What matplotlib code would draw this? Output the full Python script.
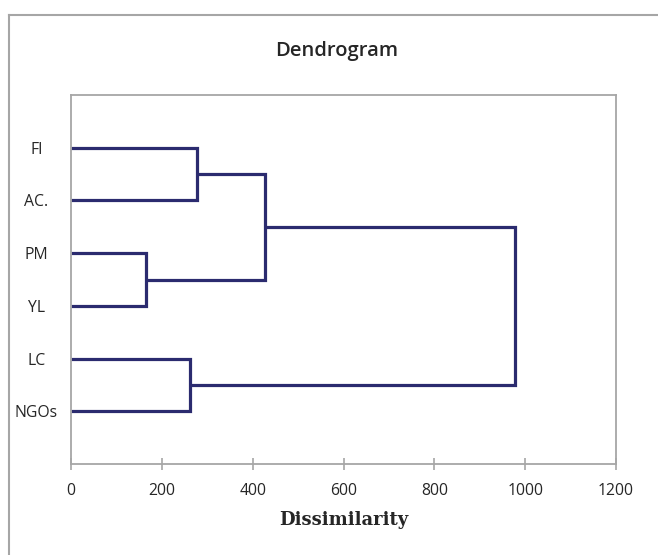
import matplotlib
matplotlib.use("Agg")
import matplotlib.pyplot as plt
from matplotlib.lines import Line2D

# Data
labels = ['FI', 'AC.', 'PM', 'YL', 'LC', 'NGOs']
# merges: (child_a, child_b, dissimilarity); leaves are 0..5, clusters 6..
merges = [
    (2, 3, 165),    # PM + YL -> 6
    (4, 5, 263),    # LC + NGOs -> 7
    (0, 1, 277),    # FI + AC. -> 8
    (8, 6, 427),    # (FI,AC.) + (PM,YL) -> 9
    (9, 7, 978),    # all -> 10
]
xticks = [0, 200, 400, 600, 800, 1000, 1200]

line_color = '#2b2b6f'
grey = '#a6a6a6'
text_color = '#262626'

fig = plt.figure(figsize=(6.58, 5.55), dpi=100)
ax = fig.add_axes([71/658, 1 - 464/555, (616-71)/658, (464-95)/555])

n = len(labels)
pos = {i: (0.0, n - i) for i in range(n)}
for k, (a, b, h) in enumerate(merges):
    xa, ya = pos[a]
    xb, yb = pos[b]
    ax.plot([xa, h, h, xb], [ya, ya, yb, yb], color=line_color, lw=2.3,
            solid_joinstyle='miter', solid_capstyle='butt')
    pos[n + k] = (h, (ya + yb) / 2)

ax.set_xlim(0, 1200)
ax.set_ylim(0, n + 1)
ax.set_xticks(xticks)
ax.set_xticklabels([str(t) for t in xticks], fontfamily='Open Sans', fontsize=11.3, color=text_color)
ax.set_yticks([n - i for i in range(n)])
ax.set_yticklabels(labels, fontfamily='Open Sans', fontsize=11.3, color=text_color, ha='center')
ax.tick_params(axis='y', length=0, pad=25)
ax.tick_params(axis='x', direction='inout', length=9, width=1.2, color=grey, pad=9)
for s in ax.spines.values():
    s.set_color(grey)
    s.set_linewidth(1.3)

ax.set_xlabel('Dissimilarity', fontfamily='DejaVu Serif', fontweight='bold', fontsize=13,
              color=text_color, labelpad=9)

fig.text(337/658, 1 - 51/555, 'Dendrogram', ha='center', va='center',
         fontfamily='Open Sans', fontweight='semibold', fontsize=14.5, color=text_color)

# outer chart frame (left and top visible)
fig.add_artist(Line2D([8.5/658, 8.5/658], [0, 1 - 15/555], transform=fig.transFigure, color=grey, lw=1.5))
fig.add_artist(Line2D([8.5/658, 1], [1 - 15/555, 1 - 15/555], transform=fig.transFigure, color=grey, lw=1.5))

fig.savefig('out.png', dpi=100)
